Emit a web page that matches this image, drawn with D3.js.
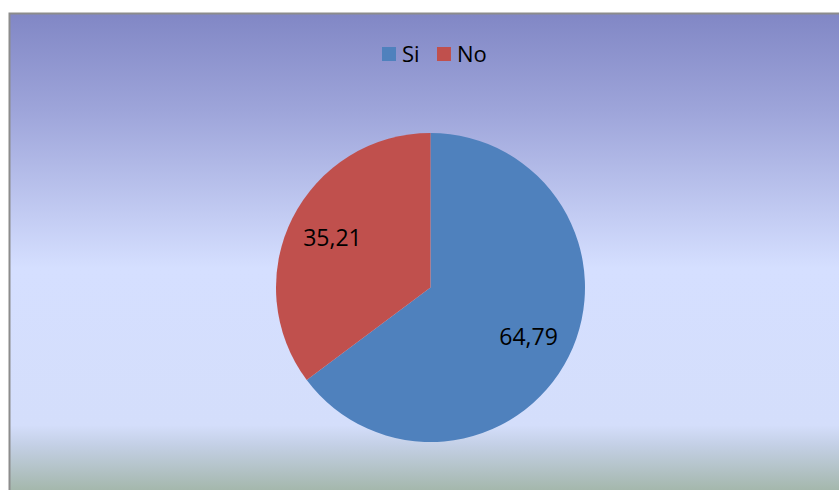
<!DOCTYPE html>
<html>
<head>
<meta charset="utf-8">
<script src="https://cdn.jsdelivr.net/npm/d3@7"></script>
<style>
  html, body { margin: 0; padding: 0; background: #ffffff; }
  svg { display: block; }
  text { font-family: "Open Sans", "Liberation Sans", sans-serif; }
</style>
</head>
<body>
<svg id="chart" width="839" height="490"></svg>
<script>
// Survey answers (percent)
const categories = ["Si", "No"];
const values = [64.79, 35.21];
const valueLabels = ["64,79", "35,21"];
const colors = ["#4f81bd", "#c0504d"];

const W = 839, H = 490;
const svg = d3.select("#chart");

// Chart area background gradient
const defs = svg.append("defs");
const grad = defs.append("linearGradient")
  .attr("id", "bg").attr("x1", 0).attr("y1", 0).attr("x2", 0).attr("y2", 1);
[
  [0.00, "#8187c5"],
  [0.20, "#9ea5da"],
  [0.52, "#d5dfff"],
  [0.84, "#d4defb"],
  [0.88, "#c4d0e6"],
  [1.00, "#9bb09b"]
].forEach(([o, c]) => grad.append("stop").attr("offset", o).attr("stop-color", c));

svg.append("rect")
  .attr("x", 9.5).attr("y", 13.5)
  .attr("width", W).attr("height", H)
  .attr("fill", "url(#bg)")
  .attr("stroke", "#8c8c8c").attr("stroke-width", 2);

// Pie
const cx = 430.5, cy = 287.5, r = 154.5;
const pie = d3.pie().sort(null).value(d => d.v);
const data = pie(categories.map((c, i) => ({ c, v: values[i], label: valueLabels[i], color: colors[i] })));
const arc = d3.arc().innerRadius(0).outerRadius(r);
const labelArc = d3.arc().innerRadius(r * 0.71).outerRadius(r * 0.71);

const g = svg.append("g").attr("transform", `translate(${cx},${cy})`);
g.selectAll("path").data(data).join("path")
  .attr("d", arc)
  .attr("fill", d => d.data.color);

g.selectAll("text").data(data).join("text")
  .attr("transform", d => `translate(${labelArc.centroid(d)})`)
  .attr("text-anchor", "middle")
  .attr("dy", "0.35em")
  .attr("font-size", 23)
  .attr("fill", "#000")
  .text(d => d.data.label);

// Legend
const legend = svg.append("g");
const items = [
  { x: 382, name: categories[0], color: colors[0] },
  { x: 437, name: categories[1], color: colors[1] }
];
items.forEach(it => {
  legend.append("rect").attr("x", it.x).attr("y", 47).attr("width", 14).attr("height", 14).attr("fill", it.color);
  legend.append("text").attr("x", it.x + 20).attr("y", 61.5)
    .attr("font-size", 22).attr("fill", "#000").text(it.name);
});
</script>
</body>
</html>
